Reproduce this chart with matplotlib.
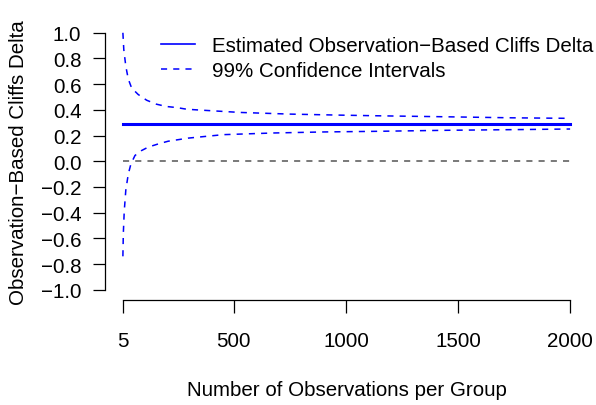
import numpy as np
import matplotlib
matplotlib.use("Agg")
import matplotlib.pyplot as plt

plt.rcParams['font.family'] = ['Liberation Sans', 'DejaVu Sans']

# values
n_upper = [5, 9, 18, 29, 44, 73, 111, 155, 200, 245, 289, 334, 527, 750, 973, 1137, 1450, 1745, 2000]
ci_upper = [1.0, 0.87, 0.74, 0.64, 0.57, 0.52, 0.475, 0.444, 0.426, 0.418, 0.405, 0.40,
            0.38, 0.367, 0.359, 0.354, 0.346, 0.338, 0.334]
n_lower = [5, 7, 11, 18, 29, 41, 59, 88, 118, 163, 207, 252, 296, 453, 676, 899, 1137, 1450, 1745, 2000]
ci_lower = [-0.74, -0.56, -0.39, -0.225, -0.10, -0.02, 0.045, 0.083, 0.11, 0.135, 0.156,
            0.168, 0.18, 0.207, 0.22, 0.228, 0.233, 0.241, 0.246, 0.251]
n_est = [5, 50, 500, 1000, 1500, 2000]
est = [0.293, 0.293, 0.293, 0.293, 0.293, 0.293]

x_ticks = [5, 500, 1000, 1500, 2000]
y_ticks = [-1.0, -0.8, -0.6, -0.4, -0.2, 0.0, 0.2, 0.4, 0.6, 0.8, 1.0]

fs = 14.8
W, H = 596, 406
fig = plt.figure(figsize=(W / 100, H / 100), dpi=100)
# axes box placed like R's plot region
left, right, top, bottom = 105, 588, 23.5, 301
ax = fig.add_axes([left / W, 1 - bottom / H, (right - left) / W, (bottom - top) / H])

ax.plot(n_est, est, color='blue', lw=2.2, label='Estimated Observation\u2212Based Cliffs Delta')
ax.plot(n_upper, ci_upper, color='blue', lw=1.1, ls=(0, (4, 4)), label='99% Confidence Intervals')
ax.plot(n_lower, ci_lower, color='blue', lw=1.1, ls=(0, (4, 4)))
ax.hlines(0, 5, 2000, color='#555555', lw=1.1, ls=(0, (4, 4)))

ax.set_xlim(5 - 0.04 * 1995, 2000 + 0.04 * 1995)
ax.set_ylim(-1.08, 1.08)

for s in ['top', 'right']:
    ax.spines[s].set_visible(False)
ax.spines['left'].set_bounds(-1, 1)
ax.spines['bottom'].set_bounds(5, 2000)
for s in ['left', 'bottom']:
    ax.spines[s].set_linewidth(0.9)

ax.set_xticks(x_ticks)
ax.set_xticklabels([str(v) for v in x_ticks])
ax.set_yticks(y_ticks)
ax.set_yticklabels([('%.1f' % v).replace('-', '\u2212') for v in y_ticks])
ax.tick_params(axis='both', direction='out', length=9, width=0.9, labelsize=fs)
ax.tick_params(axis='x', pad=13)
ax.tick_params(axis='y', pad=8)

ax.set_xlabel('Number of Observations per Group', fontsize=fs, labelpad=22)
ax.set_ylabel('Observation\u2212Based Cliffs Delta', fontsize=fs, labelpad=9)

leg = ax.legend(loc='upper left', bbox_to_anchor=(161 / W, 1 - 37 / H),
                bbox_transform=fig.transFigure, frameon=False, fontsize=fs,
                handlelength=1.65, handletextpad=0.85, labelspacing=0.28,
                borderaxespad=0, borderpad=0)
leg.get_lines()[0].set_linewidth(1.2)

fig.savefig('out.png', dpi=100)
